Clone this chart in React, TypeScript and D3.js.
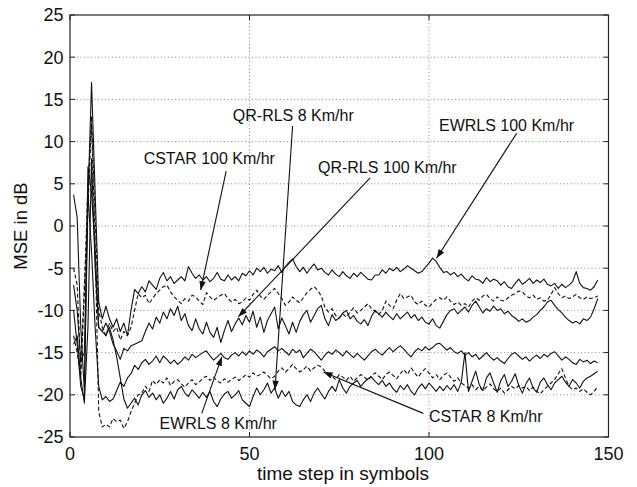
import React from "react";
import * as d3 from "d3";

// ---- data (time step 1..147, MSE in dB) ----
const ewrls100: number[] = [
  3.7, 1.0, -12, -19.5, 3, 17, 4, -9, -11, -9.5, -11, -12, -11, -12.5, -11.5, -13, -10, -7.5, -8, -7.2,
  -7.8, -6.5, -7, -7.5, -6.2, -5.5, -6.5, -6, -6.8, -6.4, -6, -6.5, -4.8, -5.6, -6.2, -5.8, -6.4, -6.0, -6.6, -6.2,
  -5.5, -6.3, -6.5, -5.8, -6.4, -6.0, -6.5, -5.6, -5.9, -5.3, -5.8, -5.0, -5.4, -4.9, -5.6, -5.1, -5.3, -4.7, -5.5, -4.8,
  -4.3, -3.9, -4.8, -5.4, -4.9, -5.6, -5.0, -4.5, -5.2, -5.0, -5.5, -5.8, -5.2, -5.7, -6.0, -5.4, -5.9, -6.2, -5.6, -6.0,
  -5.5, -5.9, -6.3, -6.4, -5.8, -5.8, -5.2, -5.6, -5.0, -5.3, -4.9, -5.4, -5.1, -4.7, -5.0, -5.3, -5.6, -5.4, -4.9, -4.4,
  -3.8, -4.2, -4.9, -5.5, -5.4, -5.8, -5.5, -6.0, -5.7, -6.2, -6.5, -5.9, -6.3, -6.4, -6.8, -6.1, -6.6, -6.3, -6.5, -7.0,
  -6.6, -7.2, -7.4, -6.8, -6.3, -6.9, -6.6, -6.2, -6.8, -6.4, -6.7, -6.3, -6.9, -7.1, -6.8, -7.4, -6.9, -7.3, -7.0, -6.6,
  -5.4, -6.8, -7.3, -7.4, -7.6, -7.2, -6.4,
];
const cstar100: number[] = [
  -5, -7, -17, -7, 2, 13, 1, -10, -12, -13, -11.5, -12.5, -12, -13.5, -12.5, -13, -12, -10, -8, -8.5,
  -8.2, -9.2, -8.6, -8.0, -7.6, -7.2, -7.0, -7.8, -8.4, -8.8, -9.2, -8.6, -8.9, -8.2, -8.4, -8.9, -9.3, -7.9, -8.4, -8.8,
  -8.5, -8.2, -8.0, -8.6, -9.0, -8.7, -9.2, -9.0, -8.5, -8.8, -8.1, -7.6, -8.3, -8.7, -8.2, -7.8, -7.4, -8.0, -8.6, -9.4,
  -9.0, -8.4, -8.8, -9.1, -8.5, -7.9, -7.5, -7.2, -7.6, -8.3, -9.6, -10.2, -9.8, -10.6, -10.9, -10.4, -10.8, -10.2, -9.7, -10.3,
  -10.0, -9.6, -9.2, -9.8, -10.1, -10.5, -10.0, -8.9, -9.4, -9.8, -8.8, -8.0, -8.6, -8.4, -8.2, -9.0, -9.3, -8.9, -9.4, -9.6,
  -9.1, -8.7, -8.5, -8.8, -8.4, -8.9, -9.3, -9.0, -9.4, -9.2, -9.6, -8.9, -8.5, -8.8, -8.3, -8.1, -8.6, -8.9, -8.4, -8.8,
  -8.9, -8.5, -8.2, -8.0, -7.7, -7.8, -8.3, -8.5, -8.2, -8.7, -8.5, -8.9, -8.8, -8.1, -7.3, -8.0, -8.5, -8.3, -8.6, -8.4,
  -8.1, -8.5, -8.7, -8.4, -8.6, -8.5, -8.3,
];
const qrrls100: number[] = [
  -14, -13, -18, -21, -12, 8, -5, -12, -12.5, -11.5, -12.5, -14, -14.8, -15.8, -14.5, -14.8, -14.2, -14.0, -13.8, -13.6,
  -12.5, -11.5, -12.2, -10.8, -11.5, -10.2, -11.0, -9.8, -10.6, -9.5, -11.2, -10.4, -11.8, -12.4, -11.0, -12.2, -12.8, -11.4, -12.6, -13.2,
  -12.0, -13.8, -12.4, -11.2, -12.5, -11.6, -10.9, -11.7, -10.6, -11.4, -10.1, -12.0, -10.8, -12.6, -11.2, -10.4, -9.6, -12.2, -10.9, -11.8,
  -12.8, -11.4, -12.6, -11.3, -10.5, -10.0, -11.4, -10.6, -9.8, -9.4, -11.0, -11.8, -10.5, -11.2, -10.9, -10.3, -10.0, -11.0, -10.6, -11.3,
  -11.6, -11.1, -11.8, -10.7, -10.0, -10.4, -10.8, -10.2, -10.7, -11.1, -10.4, -11.0, -10.6, -10.2, -10.9, -10.5, -11.2, -10.8, -11.4, -11.6,
  -11.0, -11.8, -12.1, -11.3, -10.5, -10.0, -9.8, -10.4, -10.0, -9.6, -10.2, -9.4, -8.9, -9.6, -10.3, -9.8, -10.1, -9.5, -10.0, -9.8,
  -10.4, -10.1, -10.6, -10.9, -11.3, -11.0, -11.4, -11.2, -10.8, -10.5, -10.0, -9.6, -9.0, -8.8, -9.4, -9.9, -10.3, -10.8, -11.2, -11.5,
  -11.3, -11.6, -11.0, -11.2, -10.8, -9.8, -8.6,
];
const ewrls8: number[] = [
  -7, -10, -16, -15, 4, -3, -12, -19, -20.6, -20.2, -20.8, -20.5, -19.5, -18.5, -19, -18, -17.5, -16.5, -17, -16.2,
  -15.8, -16.4, -16.0, -15.4, -16.2, -15.4, -15.8, -16.3, -15.9, -16.4, -16.0, -15.5, -15.9, -15.2, -15.6, -15.3, -15.0, -14.8, -15.4, -15.9,
  -15.5, -15.1, -15.6, -15.8, -15.3, -15.0, -15.4, -14.9, -15.3, -14.8, -15.2, -14.7, -15.0, -15.5, -14.9, -14.6, -14.3, -14.8, -14.5, -14.9,
  -15.3, -14.6, -15.0, -14.7, -15.6, -15.1, -14.6, -14.9, -15.4, -15.9, -15.3, -14.9, -15.2, -14.7, -15.0, -15.4, -14.8, -15.2, -15.6, -15.1,
  -15.5, -15.9, -15.4, -14.9, -14.6, -15.0, -15.3, -14.8, -14.4, -14.9, -14.5, -14.2, -14.6, -15.1, -15.5, -14.9, -14.5, -14.8, -14.3, -14.7,
  -14.4, -14.0, -13.9, -14.3, -14.7, -14.4, -14.9, -15.1, -14.8, -15.3, -15.0, -15.5, -15.2, -15.8, -15.4, -15.0, -15.5, -15.9, -15.6, -16.0,
  -16.3, -15.7, -15.2, -15.0, -15.4, -15.8, -15.5, -16.0, -15.6, -15.3, -15.7, -15.2, -15.5, -15.1, -14.9, -15.4, -15.9, -15.5, -15.8, -16.2,
  -16.4, -15.8, -16.1, -15.9, -16.3, -16.0, -16.2,
];
const cstar8: number[] = [
  -13, -15, -18, -8, 5, 12, -2, -22, -23.8, -23.5, -23.8, -22.8, -23.2, -23.0, -24.0, -23.2, -22.0, -21.0, -20.0, -19.8,
  -19.0, -19.6, -18.3, -18.8, -18.2, -18.6, -18.0, -18.9, -18.4, -18.2, -18.7, -19.1, -18.6, -18.2, -18.8, -18.5, -18.0, -17.8, -18.3, -17.9,
  -18.4, -18.6, -18.1, -18.5, -18.2, -17.9, -18.3, -18.0, -17.6, -17.9, -17.4, -17.8, -17.6, -17.3, -17.7, -18.1, -17.8, -17.2, -16.8, -17.3,
  -16.9, -16.4, -16.9, -17.3, -17.0, -16.6, -17.2, -16.8, -16.5, -16.7, -17.2, -17.5, -17.8, -18.2, -17.6, -17.9, -18.3, -17.8, -18.4, -18.0,
  -17.6, -17.9, -18.3, -17.7, -17.4, -17.8, -18.2, -17.6, -17.3, -17.7, -18.1, -17.5, -17.0, -17.6, -16.8, -17.4, -17.9, -17.3, -16.9, -17.4,
  -18.0, -17.6, -18.2, -17.7, -17.4, -17.9, -18.4, -18.0, -18.6, -18.9, -19.2, -18.8, -19.4, -19.0, -19.5, -19.1, -18.7, -19.3, -19.6, -19.2,
  -19.8, -19.4, -19.0, -19.3, -18.9, -19.2, -19.0, -19.5, -19.1, -19.6, -19.9, -19.4, -19.0, -18.6, -18.2, -17.5, -16.9, -18.0, -19.0, -19.4,
  -19.2, -19.6, -19.3, -19.7, -20.0, -19.6, -19.0,
];
const qrrls8: number[] = [
  -10, -14, -19, -20.5, 7, 4, -3, -12, -12.5, -13, -12, -13.5, -15.5, -18, -20.5, -21.6, -21.0, -20.4, -21.2, -20.0,
  -19.5, -20.3, -19.8, -20.6, -20.0, -21.0, -20.4, -19.6, -20.5, -19.4, -19.0, -19.8, -20.2, -19.4, -19.9, -20.4, -19.7, -20.3, -19.6, -20.8,
  -21.4, -20.5, -19.9, -19.6, -20.4, -20.0, -19.5, -20.6, -21.0, -21.4, -20.2, -19.2, -20.0, -19.4, -18.6, -19.8, -19.2, -20.4, -19.5, -20.2,
  -19.6, -20.8, -21.2, -21.4, -20.6, -20.0, -20.8, -19.8, -19.2, -19.9, -20.5, -19.6, -19.0, -19.6, -18.2, -19.2, -19.8, -19.0, -18.6, -18.3,
  -19.0, -18.5, -18.1, -17.9, -18.4, -18.8, -18.3, -19.0, -18.6, -19.3, -19.7, -18.9, -19.4, -18.8, -19.6, -20.0, -19.2, -18.7, -19.3, -18.6,
  -19.1, -19.6, -19.0, -19.5, -18.9, -19.4, -18.8, -19.6, -18.5, -15.0, -19.6, -18.4, -17.2, -18.8, -19.5, -18.0, -17.4, -18.6, -19.7, -18.3,
  -17.6, -19.0, -18.4, -17.5, -18.9, -19.8, -18.7, -18.0, -19.2, -19.7, -18.5, -18.0, -18.8, -19.4, -18.6, -18.2, -17.8, -18.5, -19.0, -18.2,
  -18.6, -19.2, -18.4, -18.0, -17.8, -17.5, -17.2,
];

const seriesNames = ["EWRLS 100", "CSTAR 100", "QR-RLS 100", "EWRLS 8", "CSTAR 8", "QR-RLS 8"];
const seriesValues = [ewrls100, cstar100, qrrls100, ewrls8, cstar8, qrrls8];
const seriesDashed = [false, true, false, false, true, false];

const yTicks = [25, 20, 15, 10, 5, 0, -5, -10, -15, -20, -25];
const xTicks = [0, 50, 100, 150];

// annotations: label, label centre (t, dB baseline), arrow tail, arrow tip (data units)
const annLabels = ["CSTAR 100 Km/hr", "QR-RLS 8 Km/hr", "QR-RLS 100 Km/hr", "EWRLS 100 Km/hr", "EWRLS 8 Km/hr", "CSTAR 8 Km/hr"];
const annTextPos: [number, number][] = [[38.8, 7.35], [62.2, 12.44], [88.4, 6.24], [121.6, 11.29], [41.3, -24.0], [115.8, -23.2]];
const annTail: [number, number][] = [[43.5, 6.5], [62.0, 11.85], [83.6, 5.69], [124.4, 10.98], [36.7, -22.2], [98.4, -22.2]];
const annTip: [number, number][] = [[36.4, -7.6], [57.1, -19.4], [46.9, -10.75], [102.1, -3.83], [42.3, -15.5], [70.6, -17.3]];

const W = 637, H = 487;
const FONT = "'Liberation Sans', Arial, Helvetica, sans-serif";

export default function App() {
  const x = d3.scaleLinear().domain([0, 150]).range([70, 608.5]);
  const y = d3.scaleLinear().domain([-25, 25]).range([437, 15]);
  const line = d3.line<number>().x((_, i) => x(i + 1)).y((v) => y(v));
  const [x0, x1] = x.range();
  const [y0, y1] = y.range();
  const tl = 5;

  const arrowHead = (tail: [number, number], tip: [number, number]) => {
    const tx = x(tip[0]), ty = y(tip[1]);
    const sx = x(tail[0]), sy = y(tail[1]);
    const ang = Math.atan2(ty - sy, tx - sx);
    const L = 9, Wd = 3.2;
    const bx = tx - L * Math.cos(ang), by = ty - L * Math.sin(ang);
    const px = -Math.sin(ang) * Wd, py = Math.cos(ang) * Wd;
    return `M${tx},${ty}L${bx + px},${by + py}L${bx - px},${by - py}Z`;
  };

  return (
    <svg width={W} height={H} style={{ position: "absolute", left: 0, top: 0, background: "#fff" }} fontFamily={FONT}>
      <rect x={0} y={0} width={W} height={H} fill="#fff" />
      {/* grid */}
      {yTicks.filter((t) => t !== 25 && t !== -25).map((t) => (
        <line key={"gy" + t} x1={x0} x2={x1} y1={y(t)} y2={y(t)} stroke="#8a8a8a" strokeWidth={1} strokeDasharray="1,2.5" />
      ))}
      {xTicks.filter((t) => t !== 0 && t !== 150).map((t) => (
        <line key={"gx" + t} x1={x(t)} x2={x(t)} y1={y0} y2={y1} stroke="#8a8a8a" strokeWidth={1} strokeDasharray="1,2.5" />
      ))}
      {/* series */}
      {seriesValues.map((vals, i) => (
        <path key={seriesNames[i]} d={line(vals) || ""} fill="none" stroke="#111" strokeWidth={1.1}
          strokeDasharray={seriesDashed[i] ? "4,2.5" : undefined} strokeLinejoin="round" />
      ))}
      {/* frame */}
      <rect x={x0} y={y1} width={x1 - x0} height={y0 - y1} fill="none" stroke="#222" strokeWidth={1.2} />
      {/* ticks */}
      {yTicks.map((t) => (
        <g key={"ty" + t}>
          <line x1={x0} x2={x0 + tl} y1={y(t)} y2={y(t)} stroke="#222" />
          <line x1={x1} x2={x1 - tl} y1={y(t)} y2={y(t)} stroke="#222" />
          <text x={63.5} y={y(t)} dy="0.36em" textAnchor="end" fontSize={18} fill="#111">{t}</text>
        </g>
      ))}
      {xTicks.map((t) => (
        <g key={"tx" + t}>
          <line x1={x(t)} x2={x(t)} y1={y0} y2={y0 - tl} stroke="#222" />
          <line x1={x(t)} x2={x(t)} y1={y1} y2={y1 + tl} stroke="#222" />
          <text x={x(t)} y={460} textAnchor="middle" fontSize={18} fill="#111">{t}</text>
        </g>
      ))}
      {/* axis labels */}
      <text x={343} y={480} textAnchor="middle" fontSize={19} fill="#111">time step in symbols</text>
      <text transform={`translate(27,226) rotate(-90)`} textAnchor="middle" fontSize={18.5} fill="#111">MSE in dB</text>
      {/* annotations */}
      {annLabels.map((lab, i) => (
        <g key={lab}>
          <line x1={x(annTail[i][0])} y1={y(annTail[i][1])} x2={x(annTip[i][0])} y2={y(annTip[i][1])} stroke="#111" strokeWidth={1.1} />
          <path d={arrowHead(annTail[i], annTip[i])} fill="#111" />
          <text x={x(annTextPos[i][0])} y={y(annTextPos[i][1])} textAnchor="middle" fontSize={16} fill="#111">{lab}</text>
        </g>
      ))}
    </svg>
  );
}
